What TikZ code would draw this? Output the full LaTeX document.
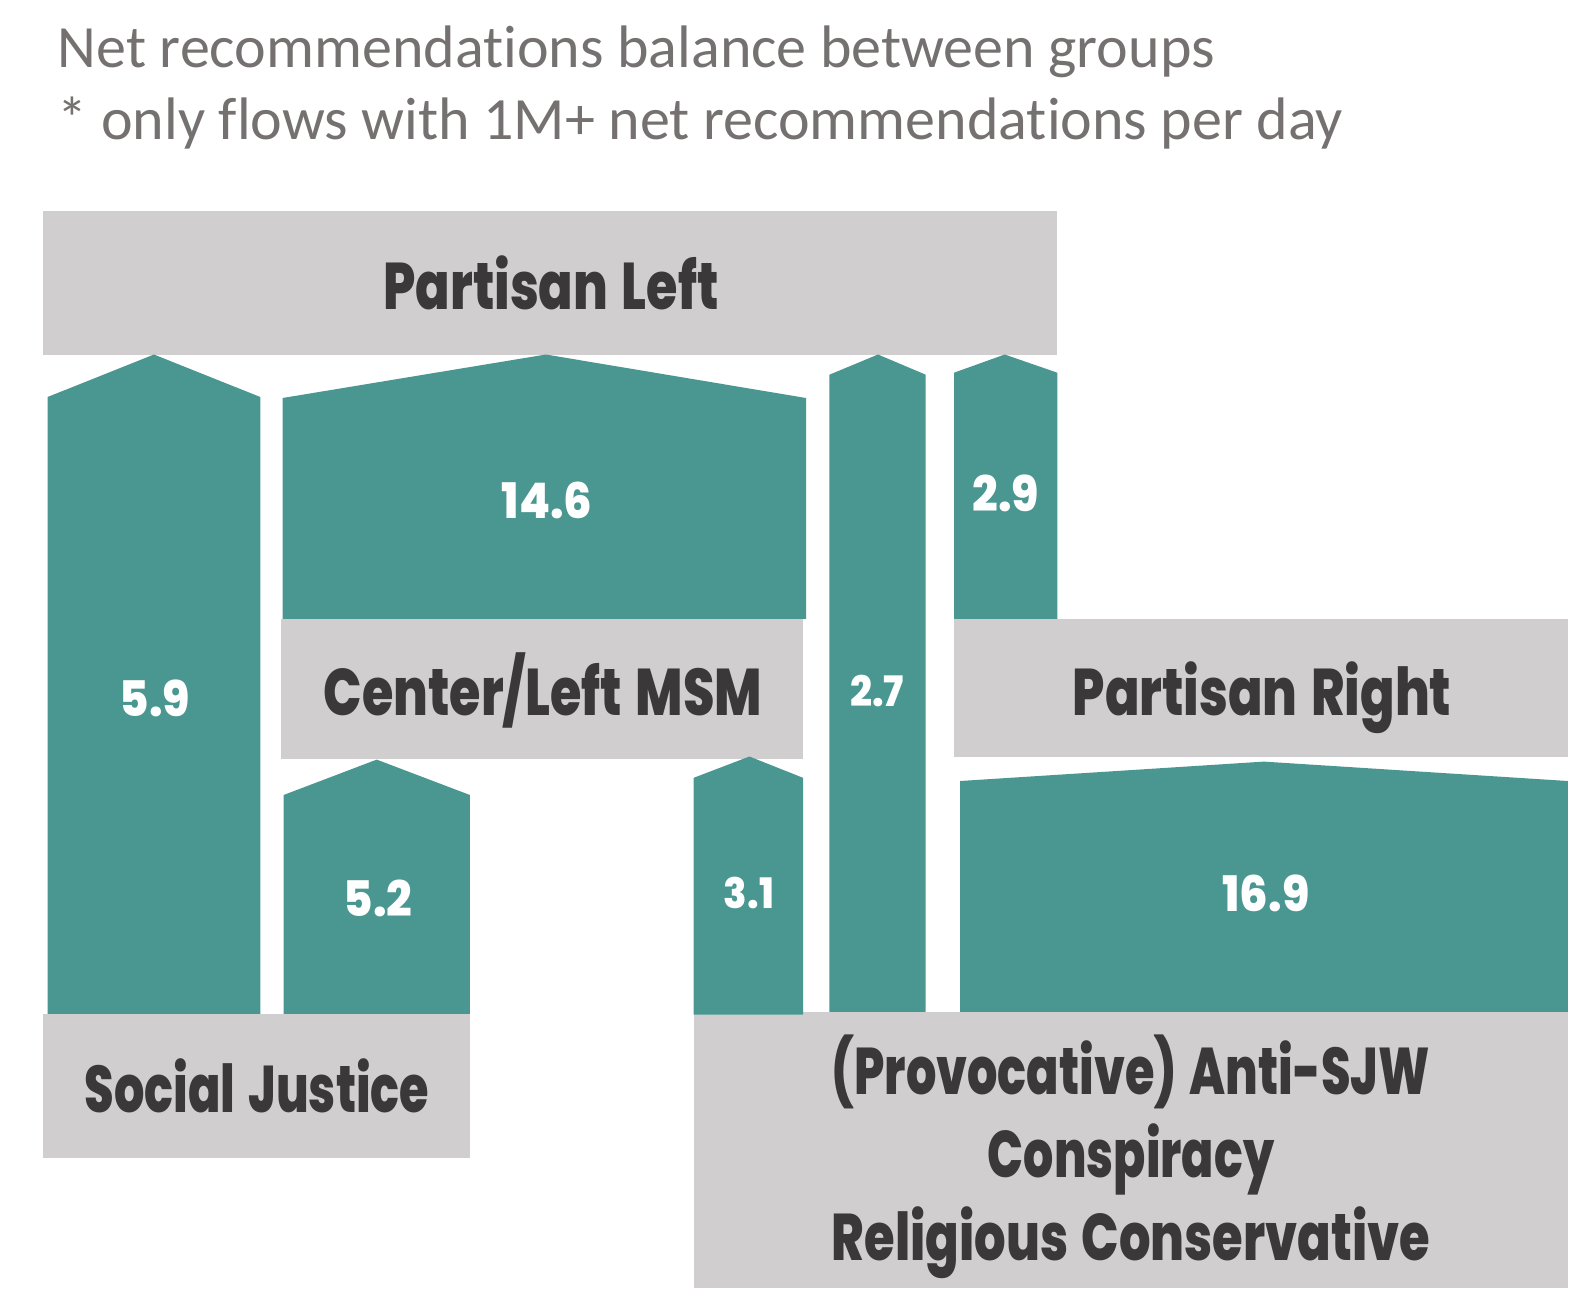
\documentclass[tikz,border=0pt]{standalone}
\usepackage{graphicx}
\usepackage{fontspec}
\setmainfont{Carlito}[Ligatures={NoCommon}]
\newfontfamily\labfont{Poppins}[FakeStretch=0.77, WordSpace=1.4, BoldFont={* ExtraBold}]
\newfontfamily\numfont{Poppins}[FakeStretch=0.92, BoldFont={* ExtraBold}]
\definecolor{flowteal}{HTML}{4A9792}
\definecolor{boxgray}{HTML}{D0CECE}
\definecolor{labdark}{HTML}{3A3838}
\definecolor{titlegray}{HTML}{767171}
\tikzset{
  grpbox/.style={fill=boxgray, draw=none, inner sep=0pt, outer sep=0pt, anchor=north west},
  flow/.style={fill=flowteal, draw=none},
  grplab/.style={text=labdark, font=\labfont\bfseries\fontsize{66}{85}\selectfont, inner sep=0pt, anchor=base},
  numlab/.style={text=white, font=\numfont\bfseries\fontsize{49}{49}\selectfont, inner sep=0pt, anchor=base},
  smallnum/.style={text=white, font=\numfont\bfseries\fontsize{42}{42}\selectfont, inner sep=0pt, anchor=base},
  titletext/.style={text=titlegray, font=\fontsize{60}{72}\selectfont, inner sep=0pt, anchor=base west},
}
\begin{document}
\begin{tikzpicture}[x=1pt, y=-1pt]
\fill[white] (0,0) rectangle (1588,1312);
\useasboundingbox (0,0) rectangle (1588,1312);

% title
\node[titletext] (t1) at (57.7,67) {Net recommendations balance between groups};
\node[titletext] (t2) at (57.7,139) {* only flows with 1M+ net recommendations per day};

% group boxes
\node[grpbox, minimum width=1014.8pt, minimum height=143.8pt] (pl) at (42.5,210.7) {};
\node[grpbox, minimum width=522.5pt, minimum height=139.8pt] (msm) at (280.5,618.8) {};
\node[grpbox, minimum width=613.8pt, minimum height=137.7pt] (pr) at (954,618.8) {};
\node[grpbox, minimum width=427.4pt, minimum height=143.8pt] (sj) at (42.5,1013.8) {};
\node[grpbox, minimum width=874.1pt, minimum height=276.5pt] (ac) at (693.7,1011.8) {};

% flows
\fill[flow] (47.6,1013.8) -- (47.6,397) -- (153.9,354.5) -- (260.3,397) -- (260.3,1013.8) -- cycle;
\fill[flow] (282.6,618.8) -- (282.6,398) -- (545.9,354.5) -- (806,398) -- (806,618.8) -- cycle;
\fill[flow] (829.4,1011.8) -- (829.4,374.7) -- (878,354.5) -- (925.7,374.7) -- (925.7,1011.8) -- cycle;
\fill[flow] (954,618.8) -- (954,372.7) -- (1004.7,354.5) -- (1057.3,372.7) -- (1057.3,618.8) -- cycle;
\fill[flow] (283.6,1013.8) -- (283.6,795) -- (376.7,759.6) -- (469.9,795) -- (469.9,1013.8) -- cycle;
\fill[flow] (693.7,1014.5) -- (693.7,777.8) -- (749.4,756.5) -- (803,777.8) -- (803,1014.5) -- cycle;
\fill[flow] (960.1,1011.8) -- (960.1,781) -- (1263.9,761.6) -- (1567.8,781) -- (1567.8,1011.8) -- cycle;

% group labels
\node[grplab] (plt) at (551,309) {Partisan Left};
\node[grplab] (msmt) at (543,715) {Center/Left MSM};
\node[grplab] (prt) at (1262,715) {Partisan Right};
\node[grplab] (sjt) at (257,1112) {\scalebox{0.94}[1]{Social Justice}};
\node[grplab] (act1) at (1131,1094) {\scalebox{0.94}[1]{(Provocative) Anti-SJW}};
\node[grplab] (act2) at (1131,1177) {\scalebox{0.935}[1]{Conspiracy}};
\node[grplab] (act3) at (1131,1260) {\scalebox{0.975}[1]{Religious Conservative}};

% flow values
\node[numlab] (v1) at (547,518.5) {14.6};
\node[numlab] (v2) at (155,716) {5.9};
\node[numlab] (v3) at (1006,511) {2.9};
\node[smallnum] (v4) at (877,706) {2.7};
\node[numlab] (v5) at (378,916.5) {5.2};
\node[smallnum] (v6) at (749,908.5) {3.1};
\node[numlab] (v7) at (1266,911.5) {16.9};
\end{tikzpicture}
\end{document}
